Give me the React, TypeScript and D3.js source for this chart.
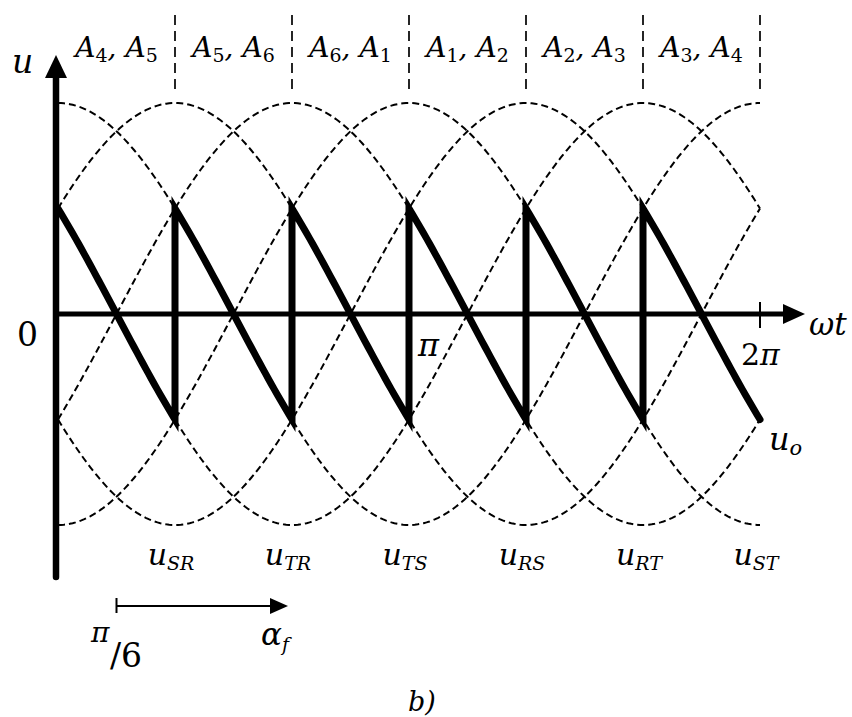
import * as d3 from 'd3';

const W = 852;
const H = 717;

// phase (deg) of the six line-to-line voltages drawn dashed
const curvePhases = [90, 30, 150, -30, 210, 270];
// phase followed by u_o in each pi/3 sector
const outputPhases = [150, 90, 30, -30, -90, -150];
// sector borders in multiples of pi/3
const sectorBorders = [1, 2, 3, 4, 5, 6];
const sectorLabels: [string, string][] = [
  ['4', '5'], ['5', '6'], ['6', '1'], ['1', '2'], ['2', '3'], ['3', '4'],
];
const voltageLabels = ['SR', 'TR', 'TS', 'RS', 'RT', 'ST'];

const FONT = "'DejaVu Serif', serif";
const PI = Math.PI;
const rad = (deg: number) => (deg * PI) / 180;

const x = d3.scaleLinear().domain([0, 2 * PI]).range([58, 760]);
const y = d3.scaleLinear().domain([-1, 1]).range([525, 103]);

const line = d3.line<[number, number]>()
  .x(d => x(d[0]))
  .y(d => y(d[1]));

function sinePoints(phaseDeg: number, from: number, to: number, n = 120): [number, number][] {
  return d3.range(n + 1).map(i => {
    const t = from + ((to - from) * i) / n;
    return [t, Math.sin(t + rad(phaseDeg))];
  });
}

function Sub({ x, y, main, sub, size = 30, subSize = 20, italicSub = true, dy = 6, anchor = 'start' }: any) {
  return (
    <text x={x} y={y} fontFamily={FONT} fontSize={size} fontStyle="italic" textAnchor={anchor}>
      {main}
      <tspan fontSize={subSize} dy={dy} fontStyle={italicSub ? 'italic' : 'normal'}>{sub}</tspan>
    </text>
  );
}

export default function App() {
  const sector = PI / 3;
  const outPts: [number, number][] = outputPhases.flatMap((ph, k) =>
    sinePoints(ph, k * sector, (k + 1) * sector, 40)
  );
  const y0 = y(0);
  const xAxisEnd = 805;
  const yAxisTop = 55;
  const fireEnd = x(2 * sector) - 4;

  return (
    <svg width={W} height={H} style={{ position: 'absolute', left: 0, top: 0, background: '#fff' }}>
      {/* sector separators */}
      {sectorBorders.map(b => (
        <line key={b} x1={x(b * sector)} x2={x(b * sector)} y1={15} y2={92}
          stroke="#000" strokeWidth={1.7} strokeDasharray="10 6" />
      ))}
      {sectorLabels.map((p, i) => {
        const cx = x((i + 0.5) * sector);
        return (
          <text key={i} x={cx} y={57} fontFamily={FONT} fontSize={28} fontStyle="italic" textAnchor="middle">
            A<tspan fontSize={19} dy={5} fontStyle="normal">{p[0]}</tspan>
            <tspan dy={-5}>, A</tspan>
            <tspan fontSize={19} dy={5} fontStyle="normal">{p[1]}</tspan>
          </text>
        );
      })}

      {/* dashed voltages */}
      {curvePhases.map(ph => (
        <path key={ph} d={line(sinePoints(ph, 0, 2 * PI, 240)) || ''}
          fill="none" stroke="#000" strokeWidth={2} strokeDasharray="7 4" />
      ))}

      {/* axes */}
      <line x1={x(0)} x2={xAxisEnd - 20} y1={y0} y2={y0} stroke="#000" strokeWidth={5} />
      <path d={`M${xAxisEnd},${y0} L${xAxisEnd - 22},${y0 - 10} L${xAxisEnd - 22},${y0 + 10} Z`} fill="#000" />
      <line x1={x(2 * PI)} x2={x(2 * PI)} y1={302} y2={328} stroke="#000" strokeWidth={2} />
      <line x1={56} x2={56} y1={577} y2={yAxisTop + 20} stroke="#000" strokeWidth={6.5} strokeLinecap="round" />
      <path d={`M56,${yAxisTop} L45,${yAxisTop + 23} L67,${yAxisTop + 23} Z`} fill="#000" />

      {/* output voltage */}
      <path d={line(outPts) || ''} fill="none" stroke="#000" strokeWidth={7}
        strokeLinejoin="miter" strokeMiterlimit={10} strokeLinecap="round" />

      {/* axis labels */}
      <text x={12} y={73} fontFamily={FONT} fontSize={33} fontStyle="italic">u</text>
      <text x={38} y={346} fontFamily={FONT} fontSize={33} textAnchor="end">0</text>
      <text x={x(PI) + 9} y={356} fontFamily={FONT} fontSize={32} fontStyle="italic">π</text>
      <text x={741} y={365} fontFamily={FONT} fontSize={30}>2<tspan fontStyle="italic">π</tspan></text>
      <text x={809} y={335} fontFamily={FONT} fontSize={31} fontStyle="italic">ωt</text>
      <Sub x={769} y={450} main="u" sub="o" size={32} subSize={21} dy={5} />

      {voltageLabels.map((v, i) => (
        <Sub key={v} x={x(sectorBorders[i] * sector) - 4} y={565} main="u" sub={v}
          size={30} subSize={19} dy={5} anchor="middle" />
      ))}

      {/* firing angle arrow */}
      <line x1={x(PI / 6)} x2={x(PI / 6)} y1={598} y2={613} stroke="#000" strokeWidth={2} />
      <line x1={x(PI / 6)} x2={fireEnd - 16} y1={606} y2={606} stroke="#000" strokeWidth={2} />
      <path d={`M${fireEnd},606 L${fireEnd - 18},598 L${fireEnd - 18},614 Z`} fill="#000" />
      <text x={91} y={642} fontFamily={FONT} fontSize={28} fontStyle="italic">π</text>
      <text x={110} y={667} fontFamily={FONT} fontSize={33}>/6</text>
      <Sub x={261} y={645} main="α" sub="f" size={31} subSize={19} dy={6} />

      <text x={408} y={711} fontFamily={FONT} fontSize={27} fontStyle="italic">b)</text>
    </svg>
  );
}
